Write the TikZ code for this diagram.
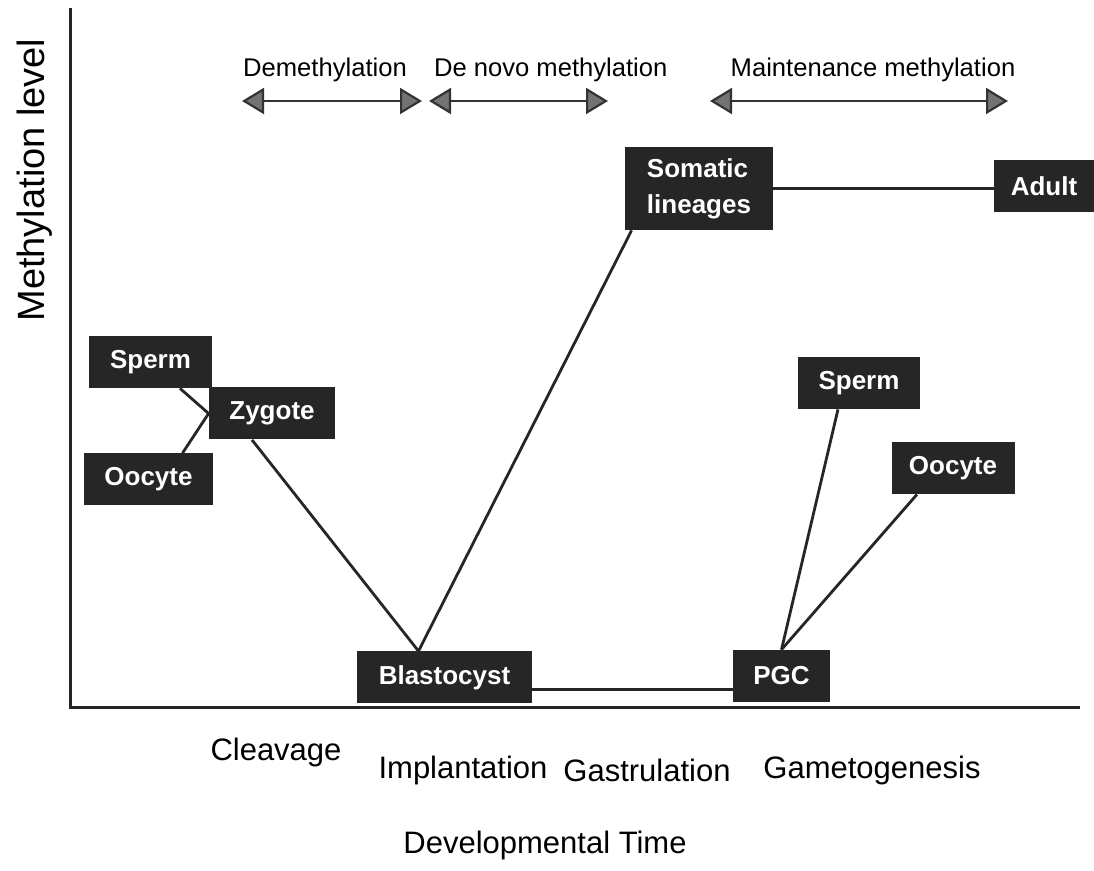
\documentclass[tikz,border=0pt]{standalone}
\usepackage{fontspec}
\setmainfont{Liberation Sans}
\usetikzlibrary{arrows.meta}

\begin{document}
\begin{tikzpicture}[x=0.5pt,y=-0.5pt,
    etapa/.style={fill=black!85, text=white, font=\bfseries\fontsize{13}{18}\selectfont,
        inner sep=0pt, minimum height=26pt},
    linea/.style={line width=1.4pt, black!85},
    flecha/.style={line width=1.1pt, black!80,
        {Triangle[length=11pt,width=13pt,fill=black!55]}-{Triangle[length=11pt,width=13pt,fill=black!55]}},
    etiqueta/.style={font=\fontsize{12.8}{15}\selectfont},
    eje/.style={font=\fontsize{15.5}{18}\selectfont}]
        \useasboundingbox (0,0) rectangle (1094,871);

        % Ejes
        \coordinate (origen) at (70,708);
        \coordinate (ytope) at (70,8);
        \coordinate (xfin) at (1080,708);
        \draw[line width=1.5pt, black!85] (ytope) -- (origen) -- (xfin);

        % Titulos de los ejes
        \node[eje, font=\fontsize{19}{22}\selectfont, rotate=90] (ylabel) at (35,180) {Methylation level};
        \node[eje] (xlabel) at (545,845) {Developmental Time};

        % Etapas del desarrollo
        \node[eje] (cliv) at (276,752) {Cleavage};
        \node[eje] (impl) at (463,770) {Implantation};
        \node[eje] (gast) at (647,770) {Gastrulation};
        \node[eje] (game) at (872,770) {Gametogenesis};

        % Procesos de metilacion
        \node[etiqueta] (demet) at (325,70) {Demethylation};
        \node[etiqueta, anchor=west] (denovo) at (427,70) {De novo methylation};
        \node[etiqueta] (mant) at (873,70) {Maintenance methylation};
        \coordinate (dem1) at (242,101);
        \coordinate (dem2) at (422,101);
        \coordinate (nov1) at (429,101);
        \coordinate (nov2) at (608,101);
        \coordinate (man1) at (710,101);
        \coordinate (man2) at (1008,101);
        \draw[flecha] (dem1) -- (dem2);
        \draw[flecha] (nov1) -- (nov2);
        \draw[flecha] (man1) -- (man2);

        % Cajas de las celulas
        \node[etapa, minimum width=61.5pt] (espL) at (150.5,362) {Sperm};
        \node[etapa, minimum width=64.5pt] (ovoL) at (148.5,479.5) {Oocyte};
        \node[etapa, minimum width=63pt] (zig) at (272,413.5) {Zygote};
        \node[etapa, minimum width=87.5pt] (blast) at (444.5,677.5) {Blastocyst};
        \node[etapa, minimum width=74pt, minimum height=41.5pt, align=left] (soma) at (699,188.5) {Somatic\\lineages};
        \node[etapa, minimum width=50pt] (adulto) at (1044,186.5) {Adult};
        \node[etapa, minimum width=48.5pt] (pgc) at (781.5,676) {PGC};
        \node[etapa, minimum width=61pt] (espR) at (859,383) {Sperm};
        \node[etapa, minimum width=61.5pt] (ovoR) at (953,468) {Oocyte};

        % Conexiones
        \draw[linea] ([xshift=14.75pt]espL.south) -- (zig.west) -- ([xshift=17pt]ovoL.north);
        \draw[linea] ([xshift=-10pt]zig.south) -- ([xshift=-13pt]blast.north);
        \draw[linea] ([xshift=-13pt]blast.north) -- ([xshift=3.5pt]soma.south west);
        \draw[linea] ([yshift=-6pt]blast.east) -- ([yshift=-6pt]blast.east -| pgc.west);
        \draw[linea] (soma.east) -- (soma.east -| adulto.west);
        \draw[linea] ([xshift=-10.5pt]espR.south) -- (pgc.north);
        \draw[linea] ([xshift=-18pt]ovoR.south) -- (pgc.north);
\end{tikzpicture}
\end{document}
